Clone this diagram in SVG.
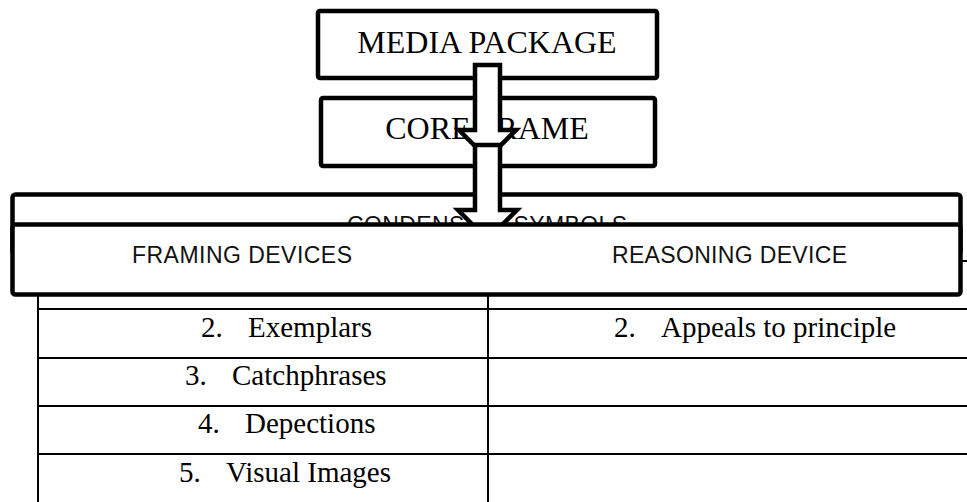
<svg xmlns="http://www.w3.org/2000/svg" width="967" height="502" viewBox="0 0 967 502">
<style>
.box{fill:#fff;stroke:#000;stroke-width:4.5;stroke-linejoin:round}
.arrow{fill:#fff;stroke:#000;stroke-width:4.5;stroke-linejoin:miter}
.grid{stroke:#000;stroke-width:2;fill:none}
.serif{font-family:"Liberation Serif","Times New Roman",serif;fill:#000}
.sans{font-family:"Liberation Sans",Arial,sans-serif;fill:#111;font-size:23px}
.hd{font-size:32px}
.cell{font-size:29px}
</style>
<rect width="967" height="502" fill="#fff"/>
<g id="table">
  <path class="grid" d="M38,261 H967 M38,309 H967 M38,358 H967 M38,406 H967 M38,454 H967 M38,261 V502 M488,261 V502"/>
  <text class="serif cell" y="337"><tspan x="201">2.</tspan><tspan x="248">Exemplars</tspan></text>
  <text class="serif cell" y="385"><tspan x="185">3.</tspan><tspan x="232">Catchphrases</tspan></text>
  <text class="serif cell" y="433"><tspan x="198">4.</tspan><tspan x="245">Depections</tspan></text>
  <text class="serif cell" y="482"><tspan x="179">5.</tspan><tspan x="226">Visual Images</tspan></text>
  <text class="serif cell" y="337"><tspan x="614">2.</tspan><tspan x="661">Appeals to principle</tspan></text>
</g>
<g id="media-package">
  <rect class="box" x="318" y="11" width="339" height="67" rx="2"/>
  <text class="serif hd" x="487" y="53" text-anchor="middle">MEDIA PACKAGE</text>
</g>
<g id="core-frame">
  <rect class="box" x="321" y="98" width="334" height="68" rx="2"/>
  <text class="serif hd" x="487" y="139" text-anchor="middle">CORE FRAME</text>
</g>
<g id="condensing-symbols">
  <rect class="box" x="12.5" y="194.5" width="948" height="60" rx="3"/>
  <text class="sans" x="347" y="233" textLength="280" lengthAdjust="spacing">CONDENSING SYMBOLS</text>
</g>
<g id="connectors">
  <polygon class="arrow" points="475,65 500,65 500,130 516,130 487.5,158.5 459,130 475,130"/>
  <polygon class="arrow" points="475,145 500,145 500,210 517,210 487.5,239.5 458,210 475,210"/>
</g>
<g id="devices">
  <rect class="box" x="12.5" y="224.5" width="948" height="70" rx="3"/>
  <text class="sans" x="132" y="263" textLength="220" lengthAdjust="spacing">FRAMING DEVICES</text>
  <text class="sans" x="612" y="263" textLength="235" lengthAdjust="spacing">REASONING DEVICE</text>
</g>
</svg>
